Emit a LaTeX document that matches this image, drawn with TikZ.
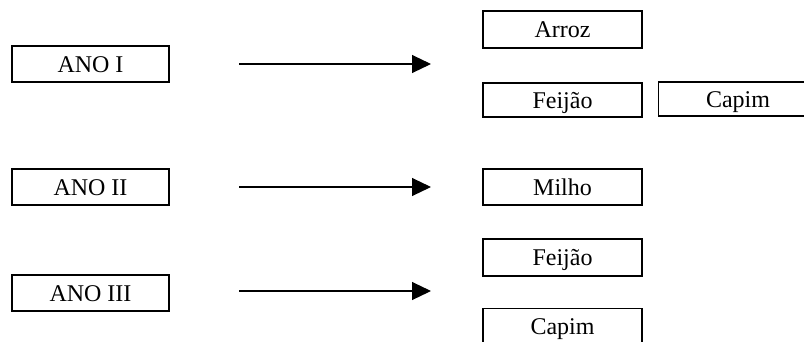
\documentclass[tikz,border=0pt]{standalone}
\usepackage{fontspec}
\setmainfont{Liberation Serif}
\usetikzlibrary{arrows.meta}
\begin{document}
\begin{tikzpicture}[x=1pt,y=-1pt,
  cropbox/.style={draw, line width=1.1pt, inner sep=0pt,
    minimum width=159pt, minimum height=36pt,
    font=\fontsize{24}{28}\selectfont, text height=16pt, text depth=0pt},
  yearbox/.style={cropbox, minimum width=157pt},
  flow/.style={-{Triangle[length=19pt,width=18pt]}, line width=1.1pt}]
\useasboundingbox (0,0) rectangle (804,341);
\clip (0,0) rectangle (804,341);

% years
\node[yearbox] (ano1) at (90.5,64)  {ANO I};
\node[yearbox] (ano2) at (90.5,187) {ANO II};
\node[yearbox] (ano3) at (90.5,293) {ANO III};

% crops
\node[cropbox, minimum height=37pt] (arroz)   at (562.5,29.5) {Arroz};
\node[cropbox, minimum height=34pt] (feijao1) at (562.5,100)  {Feijão};
% this box runs on past the right edge of the sheet
\node[cropbox, minimum height=34pt, anchor=west] (capim1) at (658,99)
  {\makebox[159pt]{Capim}\hspace{41pt}};
\node[cropbox] (milho)   at (562.5,187)   {Milho};
\node[cropbox, minimum height=37pt] (feijao2) at (562.5,257.5) {Feijão};
% this box runs on past the bottom edge of the sheet
\node[cropbox, minimum height=36pt, anchor=north] (capim2) at (562.5,308)
  {\raisebox{0pt}[16pt][0pt]{Capim}};

% arrows
\coordinate (s1) at (239,64);  \coordinate (e1) at (431,64);
\coordinate (s2) at (239,187); \coordinate (e2) at (431,187);
\coordinate (s3) at (239,291); \coordinate (e3) at (431,291);
\draw[flow] (s1) -- (e1);
\draw[flow] (s2) -- (e2);
\draw[flow] (s3) -- (e3);
\end{tikzpicture}
\end{document}
